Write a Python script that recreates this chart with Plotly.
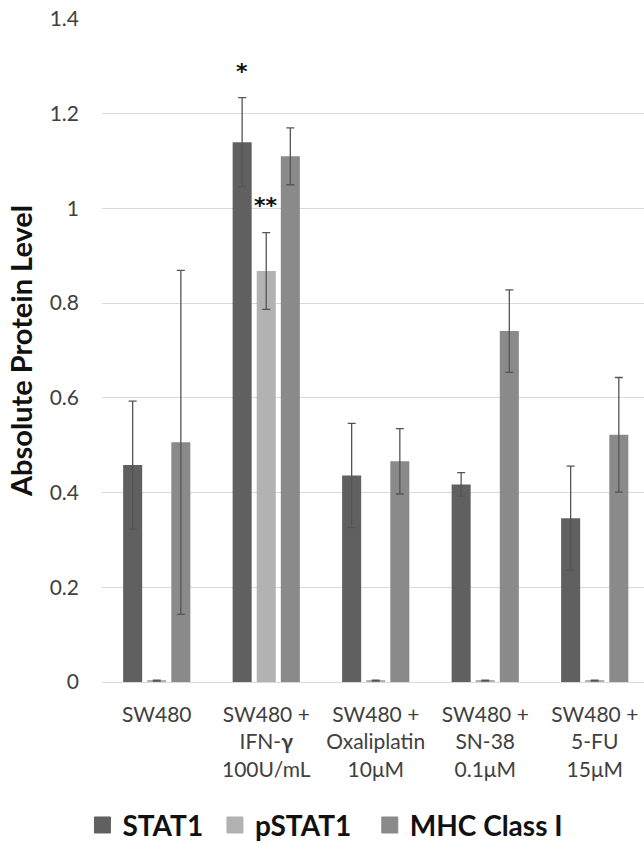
import plotly.graph_objects as go

categories = ["SW480", "SW480 +<br>IFN-<b>γ</b><br>100U/mL", "SW480 +<br>Oxaliplatin<br>10μM",
              "SW480 +<br>SN-38<br>0.1μM", "SW480 +<br>5-FU<br>15μM"]
stat1 = [0.458, 1.140, 0.436, 0.417, 0.346]
stat1_err = [0.135, 0.094, 0.110, 0.025, 0.110]
pstat1 = [0.003, 0.868, 0.003, 0.003, 0.003]
pstat1_err = [0.001, 0.081, 0.001, 0.001, 0.001]
mhc = [0.506, 1.110, 0.466, 0.741, 0.522]
mhc_err = [0.363, 0.060, 0.069, 0.087, 0.121]
ytick_vals = [0, 0.2, 0.4, 0.6, 0.8, 1.0, 1.2, 1.4]
ytick_text = ["0", "0.2", "0.4", "0.6", "0.8", "1", "1.2", "1.4"]
series_names = ["STAT1", "pSTAT1", "MHC Class I"]
series_colors = ["#606060", "#b2b2b2", "#8a8a8a"]
legend_pad = ["\u00a0", "\u00a0\u00a0", "\u00a0"]

FONT = "Lato"
err_style = dict(type="data", visible=True, color="#555555", thickness=1.3, width=4)

fig = go.Figure()
for name, vals, errs, col in zip(series_names, [stat1, pstat1, mhc],
                                 [stat1_err, pstat1_err, mhc_err], series_colors):
    fig.add_trace(go.Bar(x=list(range(len(categories))), y=vals, name=name,
                         marker=dict(color=col, line=dict(width=0)), showlegend=False,
                         error_y=dict(array=errs, **err_style)))
# legend entries with larger square symbols
for name, col, pad in zip(series_names, series_colors, legend_pad):
    fig.add_trace(go.Scatter(x=[None], y=[None], mode="markers", name=name + pad,
                             marker=dict(symbol="square", size=16, color=col,
                                         line=dict(color=col, width=1))))

# significance marks
STAR_FONT = dict(size=22, color="#111111", family="DejaVu Sans", weight="bold")
fig.add_annotation(x=1, xshift=-24, y=stat1[1] + stat1_err[1], yshift=26, text="*",
                   showarrow=False, font=STAR_FONT)
fig.add_annotation(x=1, y=pstat1[1] + pstat1_err[1], yshift=27, text="**",
                   showarrow=False, font=STAR_FONT)

fig.update_layout(
    width=644, height=843,
    margin=dict(l=102, r=0, t=19, b=161),
    plot_bgcolor="white", paper_bgcolor="white",
    barmode="group", bargap=0.34, bargroupgap=0.21,
    font=dict(family=FONT, color="#404040", size=21),
    showlegend=True,
    legend=dict(orientation="h", xref="container", yref="container",
                x=0.51, xanchor="center", y=0.021, yanchor="middle",
                font=dict(size=28, color="#111111", family=FONT, weight="bold"),
                itemwidth=30, traceorder="normal"),
    xaxis=dict(tickmode="array", tickvals=list(range(len(categories))), ticktext=categories,
               range=[-0.5, 4.45], showgrid=False, showline=False, zeroline=False,
               ticks="", tickfont=dict(size=21, color="#404040"), ticklabelstandoff=18),
    yaxis=dict(range=[0, 1.4], tickvals=ytick_vals, ticktext=ytick_text,
               showgrid=True, gridcolor="#d9d9d9", gridwidth=1.3,
               zeroline=True, zerolinecolor="#d9d9d9", zerolinewidth=1.3,
               showline=False, ticks="", ticklabelstandoff=22,
               tickfont=dict(size=21, color="#404040"),
               title=dict(text="<b>Absolute Protein Level</b>", standoff=8,
                          font=dict(size=29, color="#111111", family=FONT))),
)

fig.write_html("out.html", config={"displayModeBar": False},
               post_script="document.body.style.margin='0';")
